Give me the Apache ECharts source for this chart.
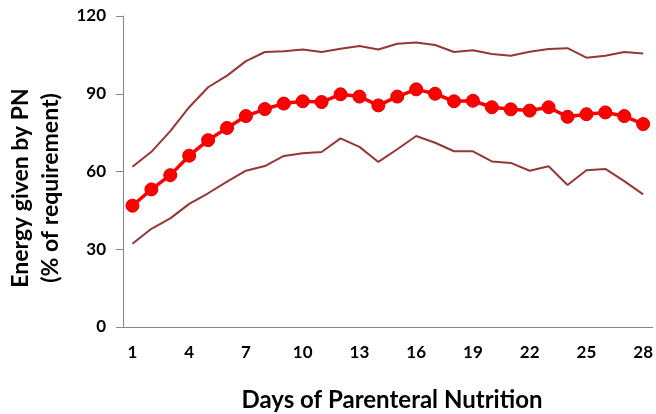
<!DOCTYPE html>
<html>
<head>
<meta charset="utf-8">
<script src="https://cdn.jsdelivr.net/npm/echarts@6/dist/echarts.min.js"></script>
<style>
html,body{margin:0;padding:0;background:#fff;}
#chart{width:656px;height:414px;}
</style>
</head>
<body>
<div id="chart"></div>
<script>
const days = ["1","2","3","4","5","6","7","8","9","10","11","12","13","14","15","16","17","18","19","20","21","22","23","24","25","26","27","28"];
const meanValues = [46.8,53.1,58.6,66.1,72.1,76.8,81.4,84.1,86.2,87.1,86.8,89.8,88.9,85.5,88.9,91.7,90.0,87.1,87.3,84.8,84.0,83.5,84.8,81.1,82.1,82.8,81.4,78.3];
const upperValues = [61.8,67.6,75.6,84.8,92.5,97.0,102.6,106.1,106.4,107.1,106.1,107.4,108.4,107.1,109.3,109.8,108.8,106.1,106.8,105.3,104.7,106.2,107.3,107.6,103.9,104.7,106.1,105.5];
const lowerValues = [32.1,37.9,41.9,47.5,51.6,56.1,60.3,62.1,66.0,67.0,67.5,72.8,69.5,63.7,68.6,73.7,71.1,67.8,67.8,63.9,63.3,60.3,62.0,54.8,60.5,61.0,56.3,51.2];
const yTitle = "Energy given by PN\n(% of requirement)";
const xTitle = "Days of Parenteral Nutrition";

const font = "Lato, 'Open Sans', sans-serif";
const chart = echarts.init(document.getElementById('chart'), null, {renderer:'canvas'});
chart.setOption({
  animation:false,
  backgroundColor:'#ffffff',
  grid:{left:123,right:1,top:16,bottom:87,containLabel:false},
  xAxis:{
    type:'category',
    data:days,
    boundaryGap:true,
    axisLine:{lineStyle:{color:'#868686',width:1}},
    axisTick:{interval:0,length:6,lineStyle:{color:'#868686'}},
    axisLabel:{interval:2,color:'#000',fontFamily:font,fontWeight:'bold',fontSize:17,margin:17},
    splitLine:{show:false}
  },
  yAxis:{
    type:'value',
    min:0,max:120,interval:30,
    axisLine:{show:true,lineStyle:{color:'#868686',width:1}},
    axisTick:{show:true,length:7,lineStyle:{color:'#868686'}},
    axisLabel:{color:'#000',fontFamily:font,fontWeight:'bold',fontSize:17,margin:17},
    splitLine:{show:false}
  },
  graphic:[
    {type:'text',x:36,y:188,rotation:Math.PI/2,style:{text:yTitle,font:"bold 23px "+font,fill:'#000',textAlign:'center',textVerticalAlign:'middle',lineHeight:30}},
    {type:'text',x:392,y:400,style:{text:xTitle,font:"bold 24px "+font,fill:'#000',textAlign:'center',textVerticalAlign:'middle'}}
  ],
  series:[
    {type:'line',data:upperValues,symbol:'none',lineStyle:{color:'#953735',width:2},z:2},
    {type:'line',data:lowerValues,symbol:'none',lineStyle:{color:'#953735',width:2},z:2},
    {type:'line',data:meanValues,symbol:'circle',symbolSize:13,showAllSymbol:true,
     lineStyle:{color:'#ff0000',width:3.5},
     itemStyle:{color:'#ff0000',borderColor:'#e00000',borderWidth:1},z:3}
  ]
});
</script>
</body>
</html>
